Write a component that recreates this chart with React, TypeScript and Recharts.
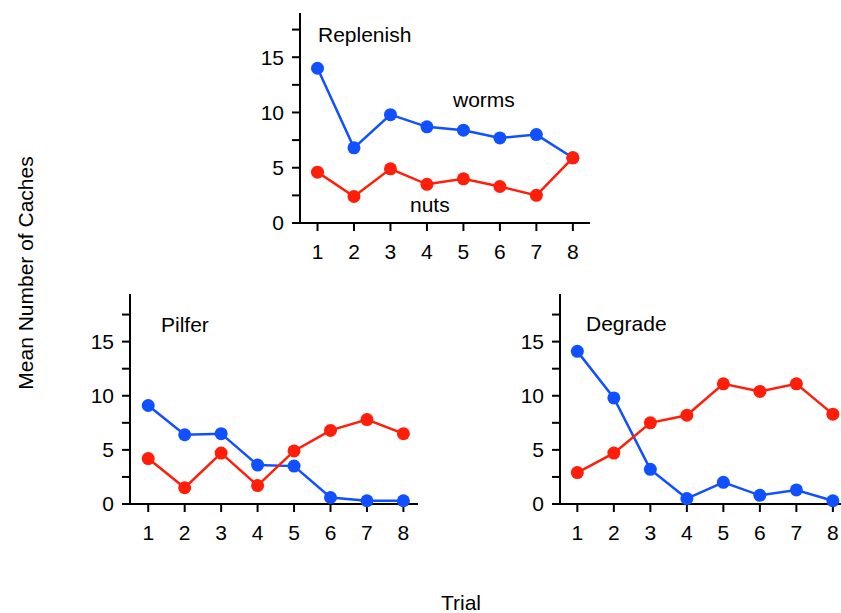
import React from 'react';
import { LineChart, Line, XAxis, YAxis } from 'recharts';

// Trial numbers shared by all three panels
const trials = [1, 2, 3, 4, 5, 6, 7, 8];
const yTicks = [0, 2.5, 5, 7.5, 10, 12.5, 15, 17.5];

// Replenish condition
const replenishWorms = [14.0, 6.8, 9.8, 8.7, 8.4, 7.7, 8.0, 5.9];
const replenishNuts = [4.6, 2.4, 4.9, 3.5, 4.0, 3.3, 2.5, 5.9];

// Pilfer condition
const pilferWorms = [9.1, 6.4, 6.5, 3.6, 3.5, 0.6, 0.3, 0.3];
const pilferNuts = [4.2, 1.5, 4.7, 1.7, 4.9, 6.8, 7.8, 6.5];

// Degrade condition
const degradeWorms = [14.1, 9.8, 3.2, 0.5, 2.0, 0.8, 1.3, 0.3];
const degradeNuts = [2.9, 4.7, 7.5, 8.2, 11.1, 10.4, 11.1, 8.3];

const BLUE = '#1050ff';
const RED = '#ff1e0a';
const FONT = '"Liberation Sans", Arial, Helvetica, sans-serif';

interface PanelProps {
  left: number;
  top: number;
  width: number;
  height: number;
  marginTop: number;
  xDomain: [number, number];
  yMax: number;
  worms: number[];
  nuts: number[];
}

const Panel: React.FC<PanelProps> = ({ left, top, width, height, marginTop, xDomain, yMax, worms, nuts }) => {
  const data = trials.map((t, i) => ({ trial: t, worms: worms[i], nuts: nuts[i] }));
  const tickStyle = { fill: '#000', fontSize: 21, fontFamily: FONT };
  const lineStyle = { stroke: '#000', strokeWidth: 2 };

  return (
    <div style={{ position: 'absolute', left, top }}>
      <LineChart width={width} height={height} data={data} margin={{ top: marginTop, right: 0, bottom: 0, left: 0 }}>
        <XAxis
          dataKey="trial"
          type="number"
          domain={xDomain}
          ticks={trials}
          interval={0}
          height={45}
          tickSize={8}
          tickMargin={13}
          axisLine={lineStyle}
          tickLine={lineStyle}
          tick={tickStyle}
        />
        <YAxis
          type="number"
          domain={[0, yMax]}
          ticks={yTicks}
          interval={0}
          width={50}
          tickSize={8}
          tickMargin={8}
          axisLine={lineStyle}
          tickLine={lineStyle}
          tick={tickStyle}
          tickFormatter={(v: number) => (v % 5 === 0 ? String(v) : '')}
        />
        <Line
          type="linear"
          dataKey="worms"
          stroke={BLUE}
          strokeWidth={2.5}
          dot={{ r: 6.5, fill: BLUE, stroke: BLUE, strokeWidth: 0 }}
          activeDot={false}
          isAnimationActive={false}
        />
        <Line
          type="linear"
          dataKey="nuts"
          stroke={RED}
          strokeWidth={2.5}
          dot={{ r: 6.5, fill: RED, stroke: RED, strokeWidth: 0 }}
          activeDot={false}
          isAnimationActive={false}
        />
      </LineChart>
    </div>
  );
};

export default function App() {
  return (
    <div style={{ position: 'absolute', left: 0, top: 0, width: 841, height: 613, overflow: 'hidden', background: '#fff' }}>
      <Panel left={250} top={0} width={340} height={268} marginTop={13} xDomain={[0.52, 8.47]} yMax={19}
        worms={replenishWorms} nuts={replenishNuts} />
      <Panel left={80} top={280} width={338} height={269} marginTop={14} xDomain={[0.5, 8.4]} yMax={19.4}
        worms={pilferWorms} nuts={pilferNuts} />
      <Panel left={510} top={280} width={332} height={269} marginTop={14} xDomain={[0.525, 8.25]} yMax={19.4}
        worms={degradeWorms} nuts={degradeNuts} />

      <svg width={841} height={613} style={{ position: 'absolute', left: 0, top: 0, pointerEvents: 'none' }}
        fontFamily={FONT} fontSize={21} fill="#000">
        <text x={318} y={42}>Replenish</text>
        <text x={453} y={107}>worms</text>
        <text x={410} y={212}>nuts</text>
        <text x={161} y={332}>Pilfer</text>
        <text x={586} y={331}>Degrade</text>
        <text x={461} y={610} textAnchor="middle">Trial</text>
        <text transform="translate(33, 273) rotate(-90)" textAnchor="middle">Mean Number of Caches</text>
      </svg>
    </div>
  );
}
